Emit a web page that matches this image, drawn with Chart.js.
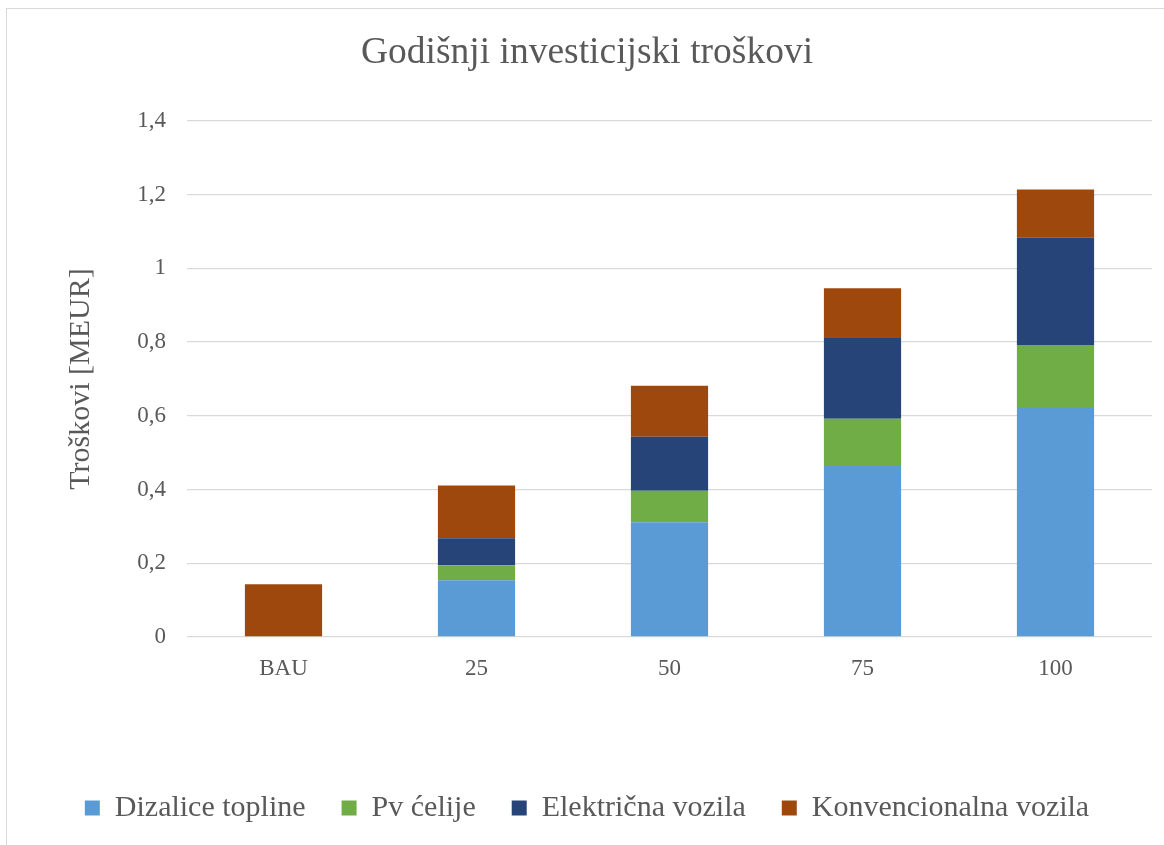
<!DOCTYPE html>
<html>
<head>
<meta charset="utf-8">
<script src="https://cdn.jsdelivr.net/npm/chart.js@4.4.1/dist/chart.umd.min.js"></script>
<style>
  html, body { margin: 0; padding: 0; background: #ffffff; overflow: hidden; }
  #frame { position: absolute; left: 6px; top: 8px; width: 1180px; height: 860px;
           border: 1px solid #d9d9d9; box-sizing: border-box; }
  #wrap { position: absolute; left: 0; top: 0; width: 1164px; height: 845px; }
</style>
</head>
<body>
<div id="frame"></div>
<div id="wrap"><canvas id="c" width="1164" height="845"></canvas></div>
<script>
// Scenarios and annual investment costs per category (MEUR)
const categories = ['BAU', '25', '50', '75', '100'];
const dizaliceTopline = [0, 0.154, 0.311, 0.464, 0.621];
const pvCelije = [0, 0.041, 0.086, 0.128, 0.171];
const elektricnaVozila = [0, 0.073, 0.146, 0.219, 0.291];
const konvencionalnaVozila = [0.143, 0.143, 0.139, 0.135, 0.131];
const yTicks = [0, 0.2, 0.4, 0.6, 0.8, 1, 1.2, 1.4];

const textColor = '#595959';
const serif = "'Liberation Serif', 'Times New Roman', serif";
const padLeft = 22;

new Chart(document.getElementById('c'), {
  type: 'bar',
  data: {
    labels: categories,
    datasets: [
      { label: 'Dizalice topline', data: dizaliceTopline, backgroundColor: '#5b9bd5' },
      { label: 'Pv ćelije', data: pvCelije, backgroundColor: '#70ad47' },
      { label: 'Električna vozila', data: elektricnaVozila, backgroundColor: '#264478' },
      { label: 'Konvencionalna vozila', data: konvencionalnaVozila, backgroundColor: '#9e480e' }
    ]
  },
  options: {
    responsive: false,
    animation: false,
    layout: { padding: { left: padLeft, right: 12, top: 0, bottom: 12 } },
    datasets: { bar: { categoryPercentage: 1, barPercentage: 0.4, borderWidth: 0 } },
    plugins: {
      tooltip: { enabled: false },
      title: {
        display: true,
        text: 'Godišnji investicijski troškovi',
        color: textColor,
        font: { family: serif, size: 37.5, weight: 'normal' },
        padding: { top: 31, bottom: 45 }
      },
      legend: {
        position: 'bottom',
        labels: {
          color: textColor,
          font: { family: serif, size: 30 },
          boxWidth: 15,
          boxHeight: 15,
          padding: 36
        }
      }
    },
    scales: {
      x: {
        stacked: true,
        grid: { display: false, drawTicks: false },
        border: { display: false },
        ticks: { color: textColor, font: { family: serif, size: 23 }, padding: 18 },
        afterFit: (s) => {
          const ch = s.chart;
          s.height = ch.height - 12 - ch.legend.height - 637;
        }
      },
      y: {
        stacked: true,
        min: 0,
        max: 1.4,
        afterBuildTicks: (s) => { s.ticks = yTicks.map(v => ({ value: v })); },
        grid: { color: '#d9d9d9', lineWidth: 1.3, drawTicks: false },
        border: { display: false },
        ticks: {
          color: textColor,
          font: { family: serif, size: 23 },
          padding: 21,
          callback: (v) => String(Math.round(v * 10) / 10).replace('.', ',')
        },
        title: {
          display: true,
          text: 'Troškovi [MEUR]',
          color: textColor,
          font: { family: serif, size: 30 },
          padding: { top: 41, bottom: 0 }
        },
        afterFit: (s) => { s.width = 187 - padLeft; }
      }
    }
  }
});
</script>
</body>
</html>
